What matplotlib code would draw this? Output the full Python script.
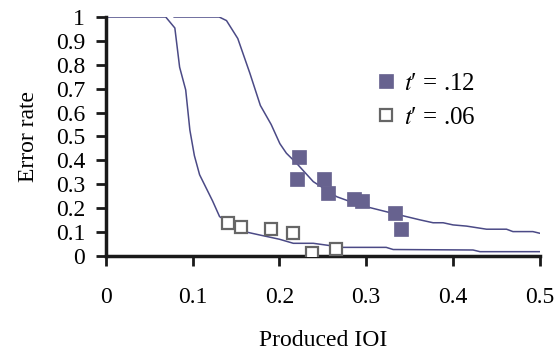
import matplotlib
matplotlib.use("Agg")
import matplotlib.pyplot as plt

plt.rcParams['font.family'] = ['Liberation Serif', 'DejaVu Serif']
plt.rcParams['mathtext.fontset'] = 'stix'

# model curves
curve_06_x = [0, 0.069, 0.0795, 0.085, 0.092, 0.0968, 0.102, 0.108, 0.123, 0.131,
              0.139, 0.15, 0.162, 0.177, 0.2, 0.216, 0.239, 0.273, 0.323, 0.331,
              0.423, 0.431, 0.5]
curve_06_y = [1, 1, 0.954, 0.79, 0.695, 0.527, 0.42, 0.34, 0.23, 0.165,
              0.145, 0.12, 0.10, 0.088, 0.07, 0.053, 0.053, 0.036, 0.036, 0.027,
              0.025, 0.018, 0.018]

curve_12_x = [0.0787, 0.1306, 0.139, 0.152, 0.166, 0.178, 0.1905, 0.2005, 0.208,
              0.2197, 0.239, 0.266, 0.2926, 0.331, 0.362, 0.377, 0.3886, 0.4,
              0.4155, 0.4386, 0.4616, 0.469, 0.492, 0.5]
curve_12_y = [1, 1, 0.985, 0.91, 0.764, 0.63, 0.55, 0.47, 0.43,
              0.388, 0.311, 0.248, 0.213, 0.178, 0.151, 0.139, 0.139, 0.130,
              0.125, 0.112, 0.112, 0.102, 0.102, 0.095]

# observed error rates
obs_12_x = [0.2227, 0.220, 0.251, 0.2558, 0.286, 0.295, 0.333, 0.3395]
obs_12_y = [0.415, 0.322, 0.322, 0.262, 0.238, 0.231, 0.179, 0.112]

obs_06_x = [0.141, 0.1555, 0.190, 0.216, 0.237, 0.265]
obs_06_y = [0.137, 0.12, 0.113, 0.095, 0.014, 0.029]

x_ticks = [0, 0.1, 0.2, 0.3, 0.4, 0.5]
x_labels = ['0', '0.1', '0.2', '0.3', '0.4', '0.5']
y_ticks = [0, 0.1, 0.2, 0.3, 0.4, 0.5, 0.6, 0.7, 0.8, 0.9, 1]
y_labels = ['0', '0.1', '0.2', '0.3', '0.4', '0.5', '0.6', '0.7', '0.8', '0.9', '1']

line_col = '#4b4a86'
fill_col = '#67628f'

fig = plt.figure(figsize=(5.6, 3.58), dpi=100)
ax = fig.add_axes([0.189, 0.285, 0.775, 0.6675])

ax.plot(curve_06_x, curve_06_y, color=line_col, lw=1.1, zorder=2)
ax.plot(curve_12_x, curve_12_y, color=line_col, lw=1.1, zorder=2)

ax.plot(obs_12_x, obs_12_y, 's', ms=10, color=fill_col, mec=fill_col, mew=0.5,
        label="$t$\u2032 = .12", zorder=3)
ax.plot(obs_06_x, obs_06_y, 's', ms=9, mfc='white', mec='#666666', mew=1.6,
        label="$t$\u2032 = .06", zorder=3)

ax.set_xlim(0, 0.5)
ax.set_ylim(0, 1)
ax.set_xticks(x_ticks)
ax.set_xticklabels(x_labels)
ax.set_yticks(y_ticks)
ax.set_yticklabels(y_labels)

for s in ['top', 'right']:
    ax.spines[s].set_visible(False)
for s in ['left', 'bottom']:
    ax.spines[s].set_linewidth(2.5)
    ax.spines[s].set_color('#1a1a1a')

ax.tick_params(axis='y', direction='out', length=7, width=2, labelsize=17, pad=8, color='#1a1a1a')
ax.tick_params(axis='x', direction='out', length=7, width=2, labelsize=17, pad=15, color='#1a1a1a')

ax.set_xlabel('Produced IOI', fontsize=17, labelpad=16)
ax.set_ylabel('Error rate', fontsize=17, labelpad=12)

ax.legend(loc='upper left', bbox_to_anchor=(0.6, 0.81), frameon=False, fontsize=18,
          handlelength=0.8, handletextpad=0.3, labelspacing=0.45, borderaxespad=0)

fig.savefig('out.png', dpi=100)
